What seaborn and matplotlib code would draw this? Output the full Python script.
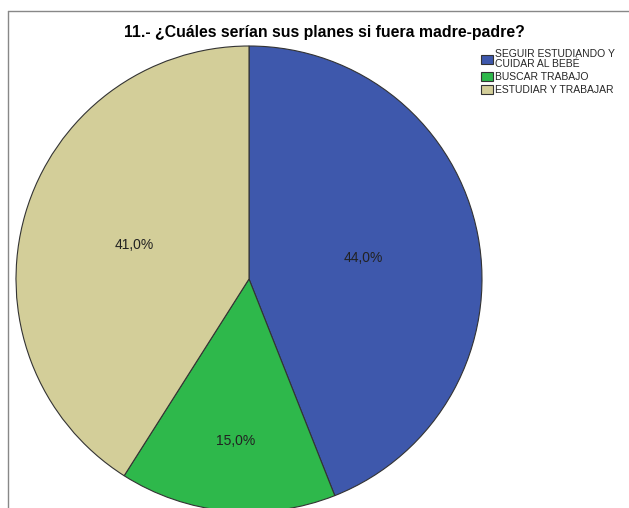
import matplotlib

matplotlib.use('Agg')
import matplotlib.pyplot as plt
import numpy as np
import seaborn as sns
from matplotlib.lines import Line2D

categories = ['SEGUIR ESTUDIANDO Y\nCUIDAR AL BEBÉ', 'BUSCAR TRABAJO', 'ESTUDIAR Y TRABAJAR']
percentages = [44.0, 15.0, 41.0]
pct_labels = ['44,0%', '15,0%', '41,0%']
colors = ['#3E58AC', '#2EB84B', '#D3CE99']
label_radius = [0.49, 0.70, 0.52]

sns.set_theme(style='white')
plt.rcParams['font.family'] = ['Liberation Sans', 'DejaVu Sans']

W, H = 629, 508
fig = plt.figure(figsize=(W / 100, H / 100), dpi=100)
ax = fig.add_axes([0, 0, 1, 1])

cx, cy, r = 249, H - 279, 233
wedges, _ = ax.pie(percentages, colors=colors, startangle=90, counterclock=False,
                   center=(cx, cy), radius=r, frame=True,
                   wedgeprops=dict(edgecolor='#333333', linewidth=0.8))
ax.set_xlim(0, W)
ax.set_ylim(0, H)
ax.set_aspect('equal')
ax.axis('off')

for w, lab, lr in zip(wedges, pct_labels, label_radius):
    ang = np.deg2rad((w.theta1 + w.theta2) / 2)
    ax.text(cx + 2 + lr * r * np.cos(ang), cy + lr * r * np.sin(ang), lab,
            ha='center', va='center', fontsize=10, color='#222222')

fig.text(324 / W, 1 - 32 / H, '11.- ¿Cuáles serían sus planes si fuera madre-padre?',
         ha='center', va='center', fontsize=11.4, fontweight='bold', color='black')

leg = fig.legend(wedges, categories, loc='upper left', bbox_to_anchor=(481 / W, 1 - 49 / H),
                 frameon=False, fontsize=7.5, handlelength=1.2, handleheight=0.95,
                 handletextpad=0.15, labelspacing=0.3, borderpad=0, borderaxespad=0)
for t in leg.get_texts():
    t.set_linespacing(0.95)

fig.add_artist(Line2D([8 / W, 8 / W], [0, 1 - 11 / H], transform=fig.transFigure,
                      color='#888888', linewidth=1))
fig.add_artist(Line2D([8 / W, 1], [1 - 11 / H, 1 - 11 / H], transform=fig.transFigure,
                      color='#888888', linewidth=1))

fig.savefig('out.png', dpi=100)
